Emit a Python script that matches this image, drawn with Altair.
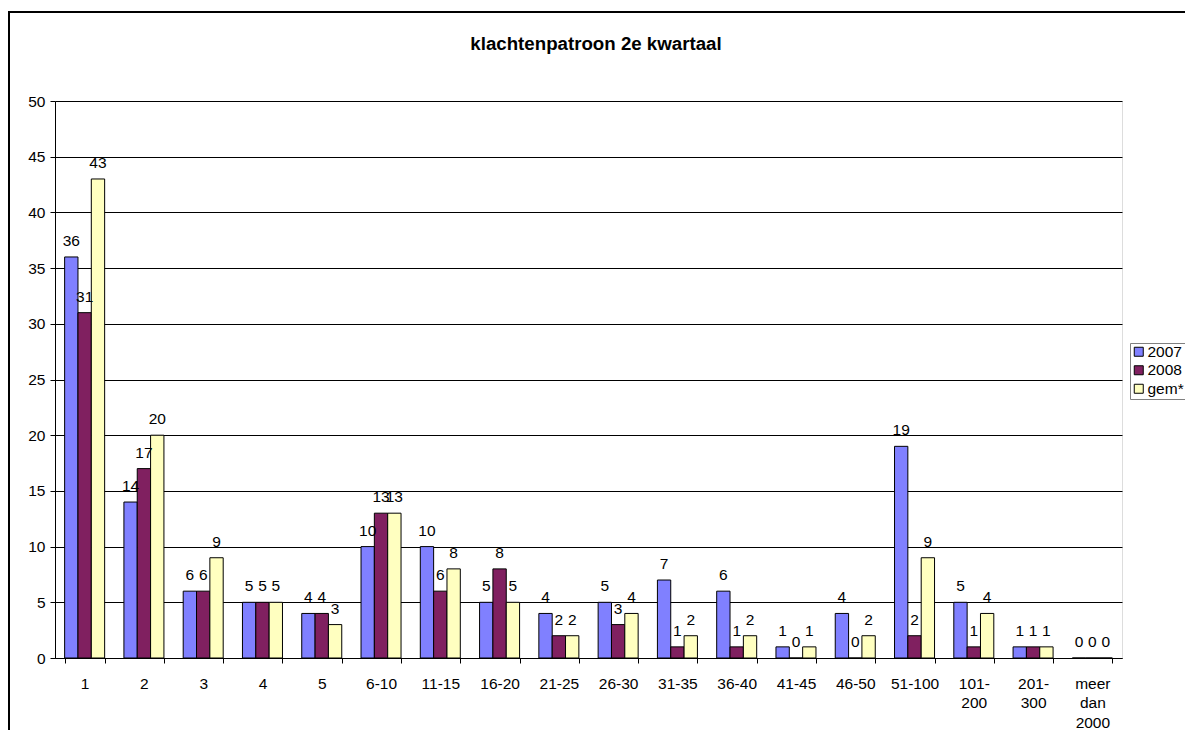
import altair as alt
import pandas as pd

categories = ["1", "2", "3", "4", "5", "6-10", "11-15", "16-20", "21-25", "26-30",
              "31-35", "36-40", "41-45", "46-50", "51-100", "101-|200", "201-|300",
              "meer|dan|2000"]
series = ["2007", "2008", "gem*"]
v2007 = [36, 14, 6, 5, 4, 10, 10, 5, 4, 5, 7, 6, 1, 4, 19, 5, 1, 0]
v2008 = [31, 17, 6, 5, 4, 13, 6, 8, 2, 3, 1, 1, 0, 0, 2, 1, 1, 0]
vgem = [43, 20, 9, 5, 3, 13, 8, 5, 2, 4, 2, 2, 1, 2, 9, 4, 1, 0]
colors = ["#8080FF", "#802060", "#FFFFC0"]
y_ticks = list(range(0, 51, 5))

rows = []
for s, vals in zip(series, [v2007, v2008, vgem]):
    for c, v in zip(categories, vals):
        rows.append({"cat": c, "series": s, "value": v})
df = pd.DataFrame(rows)

FONT = "Liberation Sans"
FS = 15.5

x_enc = alt.X("cat:N", sort=categories, title="",
              scale=alt.Scale(paddingInner=0.325, paddingOuter=0.1625),
              axis=alt.Axis(labelAngle=0, tickBand="extent", tickSize=5,
                            labelPadding=13, labelLineHeight=19.5,
                            labelExpr="split(datum.label, '|')",
                            domainColor="black", tickColor="black",
                            labelFontSize=FS, labelFont=FONT, labelColor="black",
                            grid=False))
xo_enc = alt.XOffset("series:N", sort=series,
                     scale=alt.Scale(paddingInner=0, paddingOuter=0))
y_enc = alt.Y("value:Q", title="",
              scale=alt.Scale(domain=[0, 50], nice=False),
              axis=alt.Axis(values=y_ticks, tickSize=5, labelPadding=5,
                            domainColor="black", tickColor="black",
                            gridColor="black", gridWidth=1, grid=True,
                            labelFontSize=FS, labelFont=FONT, labelColor="black"))

frame = alt.Chart(pd.DataFrame({"a": [0]})).mark_rect(
    filled=False, stroke="black", strokeWidth=2
).encode(x=alt.value(-46), x2=alt.value(1300), y=alt.value(-89), y2=alt.value(900))

bars = alt.Chart(df).mark_bar(stroke="black", strokeWidth=1).encode(
    x=x_enc, xOffset=xo_enc, y=y_enc,
    color=alt.Color("series:N", sort=series,
                    scale=alt.Scale(domain=series, range=colors),
                    legend=alt.Legend(title=None, orient="none", legendX=1075, legendY=242,
                                      strokeColor="#808080", fillColor="white",
                                      padding=1, symbolType="square", symbolSize=81,
                                      symbolStrokeColor="black", symbolStrokeWidth=1,
                                      labelFontSize=FS, labelFont=FONT, labelColor="black",
                                      labelOffset=1, rowPadding=1.5))
)

labels = alt.Chart(df).mark_text(
    baseline="alphabetic", dy=-11, fontSize=FS, font=FONT, color="black"
).encode(x=alt.X("cat:N", sort=categories), xOffset=alt.XOffset("series:N", sort=series),
         y=alt.Y("value:Q"), text=alt.Text("value:Q"))

chart = alt.layer(frame, bars, labels).properties(
    width=1067, height=557,
    title=alt.TitleParams("klachtenpatroon 2e kwartaal", fontSize=18.7, fontWeight="bold",
                          font=FONT, color="black", anchor="middle", dx=7.5,
                          offset=-43, frame="group"),
    autosize=alt.AutoSizeParams(type="none"),
    padding={"left": 47, "top": 93, "right": 63, "bottom": 72},
).configure_view(stroke="#808080", strokeWidth=1).configure(background="white")

chart.save("out.html", embed_options={"renderer": "svg", "actions": False})
